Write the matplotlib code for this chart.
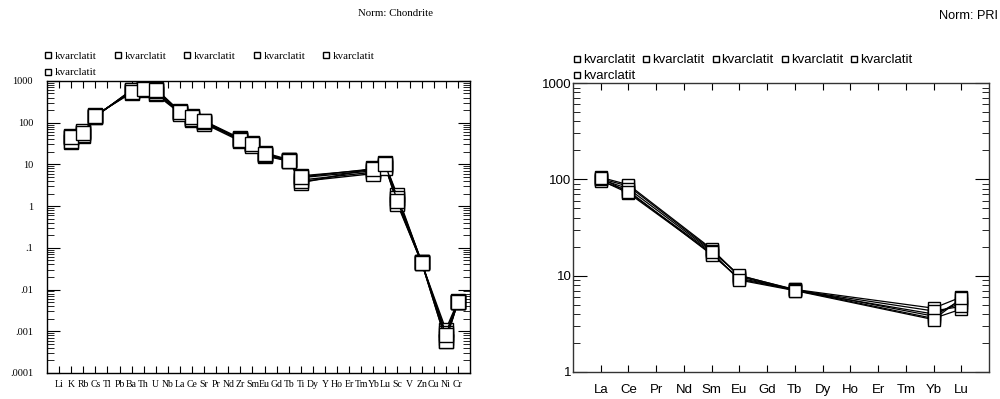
import numpy as np
import matplotlib
matplotlib.use("Agg")
import matplotlib.pyplot as plt
from matplotlib.ticker import LogLocator, NullFormatter

# spider diagram, chondrite normalised
elements = ["Li", "K", "Rb", "Cs", "Tl", "Pb", "Ba", "Th", "U", "Nb", "La", "Ce", "Sr",
            "Pr", "Nd", "Zr", "Sm", "Eu", "Gd", "Tb", "Ti", "Dy", "Y", "Ho", "Er", "Tm",
            "Yb", "Lu", "Sc", "V", "Zn", "Cu", "Ni", "Cr"]
spider_el = ["K", "Rb", "Cs", "Ba", "Th", "U", "La", "Ce", "Sr", "Zr", "Sm", "Eu",
             "Tb", "Ti", "Yb", "Lu", "Sc", "Zn", "Ni", "Cr"]
s1 = [45, 60, 145, 560, 660, 600, 180, 130, 105, 40, 31, 18, 12.5, 5.3, 7.5, 9.6, 1.8, 0.045, 0.0006, 0.0050]
s2 = [35, 48, 140, 600, 640, 480, 170, 115, 100, 38, 29, 16, 12.0, 4.2, 6.5, 8.5, 1.2, 0.043, 0.0011, 0.0052]
s3 = [44, 55, 150, 520, 700, 650, 185, 145, 110, 42, 32, 19, 13.0, 3.6, 8.0, 10.5, 1.5, 0.046, 0.0007, 0.0049]
s4 = [48, 62, 142, 580, 620, 520, 175, 125, 95, 36, 30, 17, 12.0, 4.8, 7.0, 9.0, 1.1, 0.044, 0.0009, 0.0050]
s5 = [37, 50, 138, 610, 680, 560, 165, 120, 102, 41, 28, 17, 12.5, 3.9, 6.0, 8.0, 1.6, 0.045, 0.0006, 0.0051]
s6 = [46, 58, 148, 540, 650, 620, 182, 140, 108, 39, 31, 18, 12.0, 5.0, 7.8, 10.0, 1.3, 0.044, 0.0008, 0.0050]
spider = [s1, s2, s3, s4, s5, s6]

# REE, PRI normalised
ree = ["La", "Ce", "Pr", "Nd", "Sm", "Eu", "Gd", "Tb", "Dy", "Ho", "Er", "Tm", "Yb", "Lu"]
ree_el = ["La", "Ce", "Sm", "Eu", "Tb", "Yb", "Lu"]
r1 = [102, 85, 18.5, 10.0, 7.2, 4.6, 6.0]
r2 = [98, 72, 17.0, 9.2, 7.1, 3.6, 4.5]
r3 = [105, 88, 19.0, 9.8, 7.0, 4.0, 5.2]
r4 = [96, 76, 16.5, 9.4, 7.2, 3.8, 5.6]
r5 = [100, 80, 18.0, 10.1, 7.1, 4.3, 4.8]
r6 = [103, 74, 17.5, 9.0, 7.0, 3.5, 5.8]
reedata = [r1, r2, r3, r4, r5, r6]

label = "kvarclatit"

fig = plt.figure(figsize=(10, 3.99), dpi=100)

# ---- left
serif = "Liberation Serif"
ax1 = fig.add_axes([0.047, 0.0652, 0.423, 0.732])
xs = [elements.index(e) + 1 for e in spider_el]
for s in spider:
    ax1.plot(xs, s, color="black", lw=1.0, marker="s", ms=10, mfc="white",
             mec="black", mew=1.0, label=label)
ax1.set_yscale("log")
ax1.set_ylim(0.0001, 1000)
ax1.set_xlim(0, 35)
ax1.set_xticks(range(1, len(elements) + 1))
ax1.set_xticklabels(elements, fontfamily=serif, fontsize=7)
ax1.set_yticks([0.0001, 0.001, 0.01, 0.1, 1, 10, 100, 1000])
ax1.set_yticklabels([".0001", ".001", ".01", ".1", "1", "10", "100", "1000"],
                    fontfamily=serif, fontsize=7.5)
ax1.yaxis.set_minor_locator(LogLocator(base=10, subs=np.arange(2, 10), numticks=20))
ax1.yaxis.set_minor_formatter(NullFormatter())
ax1.tick_params(which="major", direction="in", length=9, width=0.8, top=True, right=True)
ax1.tick_params(axis="y", which="major", pad=10)
ax1.tick_params(axis="x", which="major", length=5, pad=5)
ax1.tick_params(which="minor", direction="in", length=5, width=0.6, right=True)
for sp in ax1.spines.values():
    sp.set_linewidth(1.0)
leg1 = ax1.legend(loc="lower left", bbox_to_anchor=(-0.02, 0.99), ncol=5, frameon=False,
                  prop={"family": serif, "size": 7.8}, handlelength=0.6, handletextpad=0.3,
                  columnspacing=1.65, labelspacing=0.6, markerscale=0.5, borderaxespad=0.2)
for h in leg1.legend_handles:
    h.set_linestyle("none")
fig.text(0.395, 0.965, "Norm: Chondrite", fontfamily=serif, fontsize=7.8, ha="center", va="center")

# ---- right
sans = "Liberation Sans"
ax2 = fig.add_axes([0.573, 0.0677, 0.416, 0.724])
xr = [ree.index(e) + 1 for e in ree_el]
for r in reedata:
    ax2.plot(xr, r, color="black", lw=0.9, marker="s", ms=8, mfc="white",
             mec="black", mew=1.0, label=label)
ax2.set_yscale("log")
ax2.set_ylim(1, 1000)
ax2.set_xlim(0, 15)
ax2.set_xticks(range(1, len(ree) + 1))
ax2.set_xticklabels(ree, fontfamily=sans, fontsize=9.5)
ax2.set_yticks([1, 10, 100, 1000])
ax2.set_yticklabels(["1", "10", "100", "1000"], fontfamily=sans, fontsize=9.5)
ax2.yaxis.set_minor_locator(LogLocator(base=10, subs=np.arange(2, 10), numticks=20))
ax2.yaxis.set_minor_formatter(NullFormatter())
ax2.tick_params(which="major", direction="in", length=10, width=0.8, top=True, right=True, pad=1)
ax2.tick_params(axis="x", which="major", length=5, pad=9)
ax2.tick_params(which="minor", direction="in", length=5, width=0.6, right=True)
for sp in ax2.spines.values():
    sp.set_linewidth(1.0)
    sp.set_color("#333333")
leg2 = ax2.legend(loc="lower left", bbox_to_anchor=(-0.018, 0.975), ncol=5, frameon=False,
                  prop={"family": sans, "size": 9.5}, handlelength=0.5, handletextpad=0.2,
                  columnspacing=0.6, labelspacing=0.3, markerscale=0.5, borderaxespad=0.2)
for h in leg2.legend_handles:
    h.set_linestyle("none")
fig.text(0.998, 0.96, "Norm: PRI", fontfamily=sans, fontsize=9.2, ha="right", va="center")

fig.savefig("out.png", dpi=100)
